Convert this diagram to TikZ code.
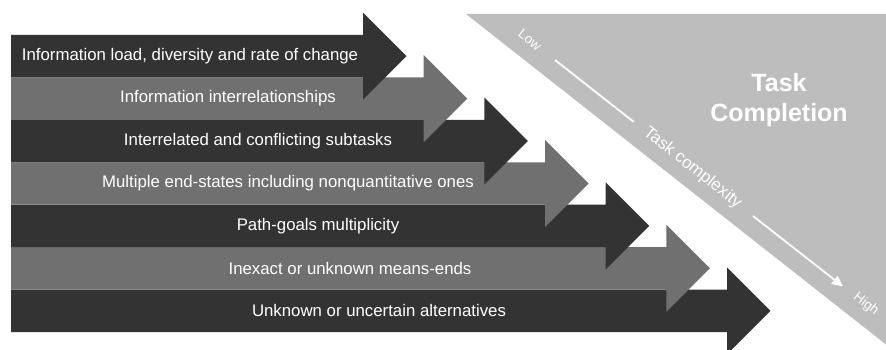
\documentclass[tikz,border=0pt]{standalone}
\usepackage{fontspec}
\setmainfont{Liberation Sans}
\usetikzlibrary{arrows.meta}
\definecolor{darkband}{HTML}{333333}
\definecolor{grayband}{HTML}{707070}
\definecolor{tricol}{HTML}{BDBDBD}
\begin{document}
\begin{tikzpicture}[x=1pt,y=-1pt,
  lbl/.style={text=white,font=\fontsize{16.8}{19}\selectfont,inner sep=0pt,anchor=center},
  axislbl/.style={text=white,font=\fontsize{13.5}{15}\selectfont,inner sep=0pt,rotate=-38.2},
  axisline/.style={draw=white,line width=1.8pt},
  titlelbl/.style={text=white,font=\fontsize{25}{30}\selectfont\bfseries,align=center,inner sep=0pt}]
\useasboundingbox (0,0) rectangle (886,350);
\clip (0,0) rectangle (886,350);
% triangle
\fill[tricol] (466,14) -- (886,14) -- (886,344.5) -- cycle;
\node[titlelbl] (title) at (779,100.5) {Task\\Completion};
% complexity axis
\coordinate (a1) at (555,60);
\coordinate (a2) at (633.6,121.8);
\coordinate (a3) at (753,216);
\coordinate (a4) at (843,286.5);
\node[axislbl] (low) at (530,40) {Low};
\node[axislbl,font=\fontsize{17}{19}\selectfont] (cplx) at (692.5,168) {Task complexity};
\node[axislbl] (high) at (866,304) {High};
\draw[axisline] (a1) -- (a2);
\draw[axisline,-{Triangle[length=11pt,width=10pt]}] (a3) -- (a4);
% arrows (bottom first so upper ones lie on top)
\foreach \i/\cx/\col/\txt in {
  7/379/darkband/{Unknown or uncertain alternatives},
  6/350/grayband/{Inexact or unknown means-ends},
  5/318/darkband/{Path-goals multiplicity},
  4/288/grayband/{Multiple end-states including nonquantitative ones},
  3/258/darkband/{Interrelated and conflicting subtasks},
  2/228/grayband/{Information interrelationships},
  1/190/darkband/{Information load, diversity and rate of change}} {
  \pgfmathsetmacro\yt{35+42.43*(\i-1)}
  \pgfmathsetmacro\yb{\yt+42.43}
  \pgfmathsetmacro\ym{\yt+21.2}
  \pgfmathsetmacro\xe{363+60.67*(\i-1)}
  \fill[\col] (11,\yt) -- (\xe,\yt) -- (\xe,\ym-43.5) -- (\xe+43.5,\ym)
     -- (\xe,\ym+43.5) -- (\xe,\yb) -- (11,\yb) -- cycle;
  \node[lbl] (l\i) at (\cx,\ym) {\txt};
}
\end{tikzpicture}
\end{document}
